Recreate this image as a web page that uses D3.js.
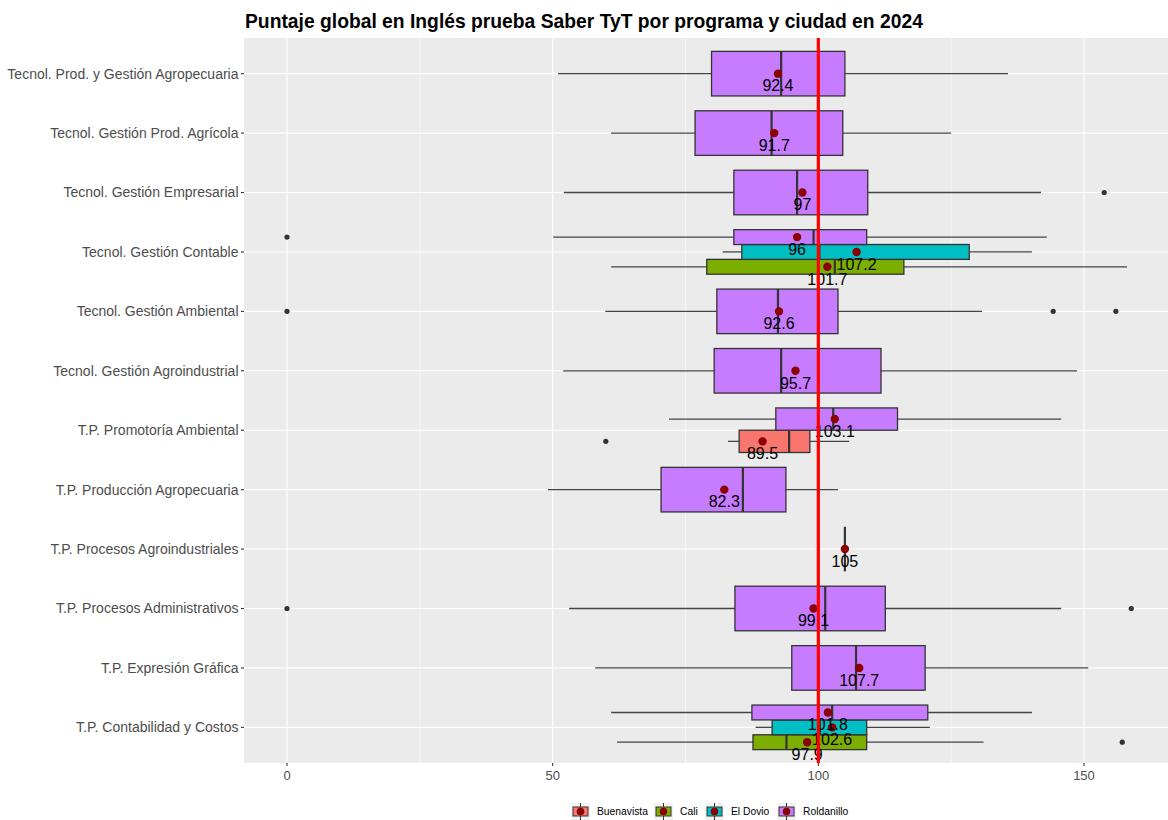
<!DOCTYPE html>
<html>
<head>
<meta charset="utf-8">
<script src="https://cdn.jsdelivr.net/npm/d3@7"></script>
<style>
  body { margin: 0; background: #fff; }
  svg text { font-family: "Liberation Sans", Arial, sans-serif; }
</style>
</head>
<body>
<svg id="chart"></svg>
<script>
var width = 1168;
var height = 820;

var programs = [
    "Tecnol. Prod. y Gestión Agropecuaria",
    "Tecnol. Gestión Prod. Agrícola",
    "Tecnol. Gestión Empresarial",
    "Tecnol. Gestión Contable",
    "Tecnol. Gestión Ambiental",
    "Tecnol. Gestión Agroindustrial",
    "T.P. Promotoría Ambiental",
    "T.P. Producción Agropecuaria",
    "T.P. Procesos Agroindustriales",
    "T.P. Procesos Administrativos",
    "T.P. Expresión Gráfica",
    "T.P. Contabilidad y Costos"
];
var cities = ["Buenavista", "Cali", "El Dovio", "Roldanillo"];
var cityColors = ["#F8766D", "#7CAE00", "#00BFC4", "#C77CFF"];
var xTicks = [0, 50, 100, 150];
var xMinor = [25, 75, 125];
var reference = 100;

// program, city, lower whisker, q1, median, q3, upper whisker, mean
var boxStats = [
    [0, "Roldanillo", 51.0, 79.9, 93.0, 105.0, 135.7, 92.4],
    [1, "Roldanillo", 61.0, 76.8, 91.2, 104.6, 125.0, 91.7],
    [2, "Roldanillo", 52.1, 84.1, 96.0, 109.3, 141.9, 97],
    [3, "Cali", 61.0, 79.0, 103.1, 116.1, 158.1, 101.7],
    [3, "El Dovio", 82.0, 85.6, 100.2, 128.4, 140.2, 107.2],
    [3, "Roldanillo", 50.1, 84.1, 99.1, 109.1, 143.0, 96],
    [4, "Roldanillo", 59.9, 80.9, 92.4, 103.7, 130.8, 92.6],
    [5, "Roldanillo", 52.0, 80.4, 93.0, 111.8, 148.7, 95.7],
    [6, "Buenavista", 83.0, 85.1, 94.5, 98.4, 105.8, 89.5],
    [6, "Roldanillo", 71.9, 92.0, 102.8, 114.9, 145.7, 103.1],
    [7, "Roldanillo", 49.1, 70.4, 85.8, 93.9, 103.7, 82.3],
    [8, "Roldanillo", 105, 105, 105, 105, 105, 105],
    [9, "Roldanillo", 53.1, 84.3, 101.3, 112.6, 145.7, 99.1],
    [10, "Roldanillo", 58.0, 95.0, 107.1, 120.1, 150.8, 107.7],
    [11, "Cali", 62.1, 87.7, 94.0, 109.1, 131.1, 97.9],
    [11, "El Dovio", 88.2, 91.3, 100.3, 109.1, 121.0, 102.6],
    [11, "Roldanillo", 61.0, 87.5, 102.6, 120.6, 140.2, 101.8]
];

// program, city, value
var outliers = [
    [2, "Roldanillo", 153.8],
    [3, "Roldanillo", 0],
    [4, "Roldanillo", 0],
    [4, "Roldanillo", 144.2],
    [4, "Roldanillo", 156.0],
    [6, "Buenavista", 60.0],
    [9, "Roldanillo", 0],
    [9, "Roldanillo", 158.9],
    [11, "Cali", 157.2]
];

var panel = { left: 244, right: 1168, top: 38, bottom: 763 };

var svg = d3.select("#chart").attr("width", width).attr("height", height);

var x = d3.scaleLinear().domain([0, 150]).range([287, 1084]);
var y = d3.scalePoint().domain(programs).range([panel.top, panel.bottom]).padding(0.6);
var color = d3.scaleOrdinal().domain(cities).range(cityColors);
var step = y.step();

// groups present in each program -> dodge slot
function slot(p, city) {
    var present = boxStats.filter(d => d[0] === p).map(d => d[1])
        .sort((a, b) => cities.indexOf(a) - cities.indexOf(b));
    var n = present.length;
    var i = present.indexOf(city);
    var w = step * 0.75 / n;
    return { cy: y(programs[p]) + w * ((n - 1) / 2 - i), w: w };
}

svg.append("rect")
    .attr("x", panel.left).attr("y", panel.top)
    .attr("width", panel.right - panel.left).attr("height", panel.bottom - panel.top)
    .attr("fill", "#EBEBEB");

svg.selectAll(".minor").data(xMinor).enter().append("line")
    .attr("x1", d => x(d)).attr("x2", d => x(d))
    .attr("y1", panel.top).attr("y2", panel.bottom)
    .attr("stroke", "#fff").attr("stroke-width", 0.55);

svg.selectAll(".majorX").data(xTicks).enter().append("line")
    .attr("x1", d => x(d)).attr("x2", d => x(d))
    .attr("y1", panel.top).attr("y2", panel.bottom)
    .attr("stroke", "#fff").attr("stroke-width", 1.1);

svg.selectAll(".majorY").data(programs).enter().append("line")
    .attr("x1", panel.left).attr("x2", panel.right)
    .attr("y1", d => y(d)).attr("y2", d => y(d))
    .attr("stroke", "#fff").attr("stroke-width", 1.1);

// boxes
var boxes = svg.selectAll(".box").data(boxStats).enter().append("g");

boxes.append("line")
    .attr("x1", d => x(d[2])).attr("x2", d => x(d[3]))
    .attr("y1", d => slot(d[0], d[1]).cy).attr("y2", d => slot(d[0], d[1]).cy)
    .attr("stroke", "#444").attr("stroke-width", 1.3);
boxes.append("line")
    .attr("x1", d => x(d[5])).attr("x2", d => x(d[6]))
    .attr("y1", d => slot(d[0], d[1]).cy).attr("y2", d => slot(d[0], d[1]).cy)
    .attr("stroke", "#444").attr("stroke-width", 1.3);
boxes.append("rect")
    .attr("x", d => x(d[3]))
    .attr("y", d => slot(d[0], d[1]).cy - slot(d[0], d[1]).w / 2)
    .attr("width", d => x(d[5]) - x(d[3]))
    .attr("height", d => slot(d[0], d[1]).w)
    .attr("fill", d => color(d[1]))
    .attr("stroke", "#333").attr("stroke-width", 1.3);
boxes.append("line")
    .attr("x1", d => x(d[4])).attr("x2", d => x(d[4]))
    .attr("y1", d => slot(d[0], d[1]).cy - slot(d[0], d[1]).w / 2)
    .attr("y2", d => slot(d[0], d[1]).cy + slot(d[0], d[1]).w / 2)
    .attr("stroke", "#333").attr("stroke-width", 2.2);

svg.selectAll(".outlier").data(outliers).enter().append("circle")
    .attr("cx", d => x(d[2]))
    .attr("cy", d => slot(d[0], d[1]).cy)
    .attr("r", 2.6)
    .attr("fill", "#333");

svg.selectAll(".mean").data(boxStats).enter().append("circle")
    .attr("cx", d => x(d[7]))
    .attr("cy", d => slot(d[0], d[1]).cy)
    .attr("r", 4.2)
    .attr("fill", "#8B0000");

svg.selectAll(".meanLabel").data(boxStats).enter().append("text")
    .attr("x", d => x(d[7]))
    .attr("y", d => slot(d[0], d[1]).cy + 12)
    .attr("dy", "0.36em")
    .attr("text-anchor", "middle")
    .attr("font-size", "16px")
    .attr("fill", "#000")
    .text(d => d3.format("~")(d[7]));

// reference line
svg.append("line")
    .attr("x1", x(reference)).attr("x2", x(reference))
    .attr("y1", panel.top).attr("y2", panel.bottom)
    .attr("stroke", "#FF0000").attr("stroke-width", 3.2);

// axes
var yAxis = svg.append("g");
yAxis.selectAll("line").data(programs).enter().append("line")
    .attr("x1", panel.left - 3).attr("x2", panel.left)
    .attr("y1", d => y(d)).attr("y2", d => y(d))
    .attr("stroke", "#333").attr("stroke-width", 1.1);
yAxis.selectAll("text").data(programs).enter().append("text")
    .attr("x", panel.left - 5.5)
    .attr("y", d => y(d))
    .attr("dy", "0.35em")
    .attr("text-anchor", "end")
    .attr("font-size", "14px")
    .attr("fill", "#4D4D4D")
    .text(d => d);

var xAxis = svg.append("g");
xAxis.selectAll("line").data(xTicks).enter().append("line")
    .attr("x1", d => x(d)).attr("x2", d => x(d))
    .attr("y1", panel.bottom).attr("y2", panel.bottom + 3)
    .attr("stroke", "#333").attr("stroke-width", 1.1);
xAxis.selectAll("text").data(xTicks).enter().append("text")
    .attr("x", d => x(d))
    .attr("y", panel.bottom + 12)
    .attr("dy", "0.35em")
    .attr("text-anchor", "middle")
    .attr("font-size", "13px")
    .attr("fill", "#4D4D4D")
    .text(d => d);

svg.append("text")
    .attr("x", panel.left + 1)
    .attr("y", 28)
    .attr("font-size", "19.3px")
    .attr("font-weight", "bold")
    .attr("fill", "#000")
    .text("Puntaje global en Inglés prueba Saber TyT por programa y ciudad en 2024");

// legend
var legendX = [571, 654, 705, 777];
var legend = svg.selectAll(".legend").data(cities).enter().append("g")
    .attr("transform", (d, i) => `translate(${legendX[i]},803)`);
legend.append("rect")
    .attr("width", 19).attr("height", 17)
    .attr("fill", "#F2F2F2");
legend.append("line")
    .attr("x1", 9.5).attr("x2", 9.5).attr("y1", 0).attr("y2", 17)
    .attr("stroke", "#333").attr("stroke-width", 1);
legend.append("rect")
    .attr("x", 2).attr("y", 4).attr("width", 15).attr("height", 9)
    .attr("fill", d => color(d))
    .attr("stroke", "#333").attr("stroke-width", 1);
legend.append("circle")
    .attr("cx", 9.5).attr("cy", 8.5).attr("r", 3.8)
    .attr("fill", "#8B0000");
legend.append("text")
    .attr("x", 26).attr("y", 8.5)
    .attr("dy", "0.35em")
    .attr("font-size", "10.3px")
    .attr("fill", "#000")
    .text(d => d);
</script>
</body>
</html>
